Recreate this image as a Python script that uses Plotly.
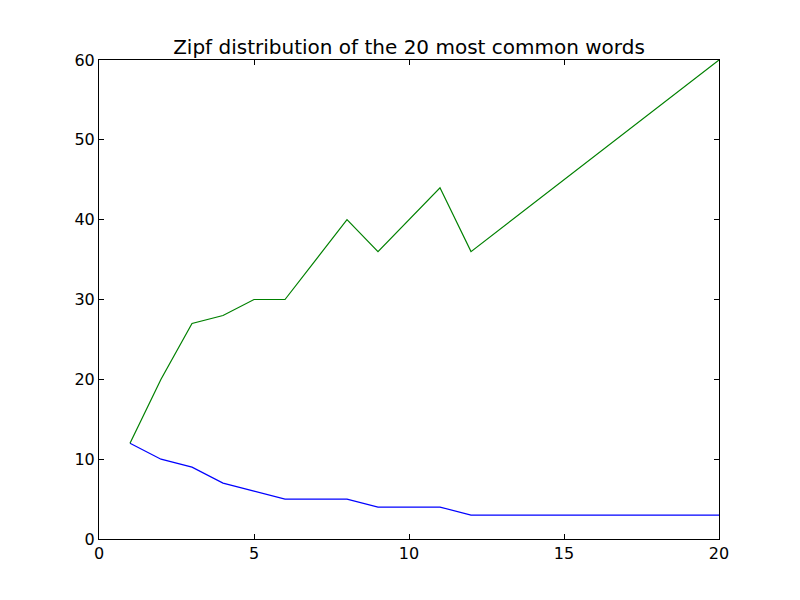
import plotly.graph_objects as go

ranks = list(range(1, 21))
frequency = [12, 10, 9, 7, 6, 5, 5, 5, 4, 4, 4, 3, 3, 3, 3, 3, 3, 3, 3, 3]
rank_times_freq = [r * f for r, f in zip(ranks, frequency)]
x_ticks = [0, 5, 10, 15, 20]
y_ticks = [0, 10, 20, 30, 40, 50, 60]

fig = go.Figure()
fig.add_trace(go.Scatter(x=ranks, y=frequency, mode="lines",
                         line=dict(color="#0000ff", width=1.2), showlegend=False))
fig.add_trace(go.Scatter(x=ranks, y=rank_times_freq, mode="lines",
                         line=dict(color="#008000", width=1.2), showlegend=False))

axis_common = dict(showgrid=False, zeroline=False, showline=True, linecolor="black",
                   linewidth=1, ticks="inside", ticklen=5, tickcolor="black",
                   mirror="ticks", tickfont=dict(family="DejaVu Sans", size=16, color="black"))
fig.update_xaxes(range=[0, 20], tickvals=x_ticks, **axis_common)
fig.update_yaxes(range=[0, 60], tickvals=y_ticks, **axis_common)

fig.update_layout(
    width=800, height=600,
    margin=dict(l=91, r=89, t=52, b=69),
    paper_bgcolor="white", plot_bgcolor="white",
    title=dict(text="Zipf distribution of the 20 most common words",
               x=(409 - 8) / 800, xanchor="center", y=1 - 39 / 600, yanchor="middle",
               font=dict(family="DejaVu Sans", size=20, color="black")),
)
fig.write_html("out.html")
